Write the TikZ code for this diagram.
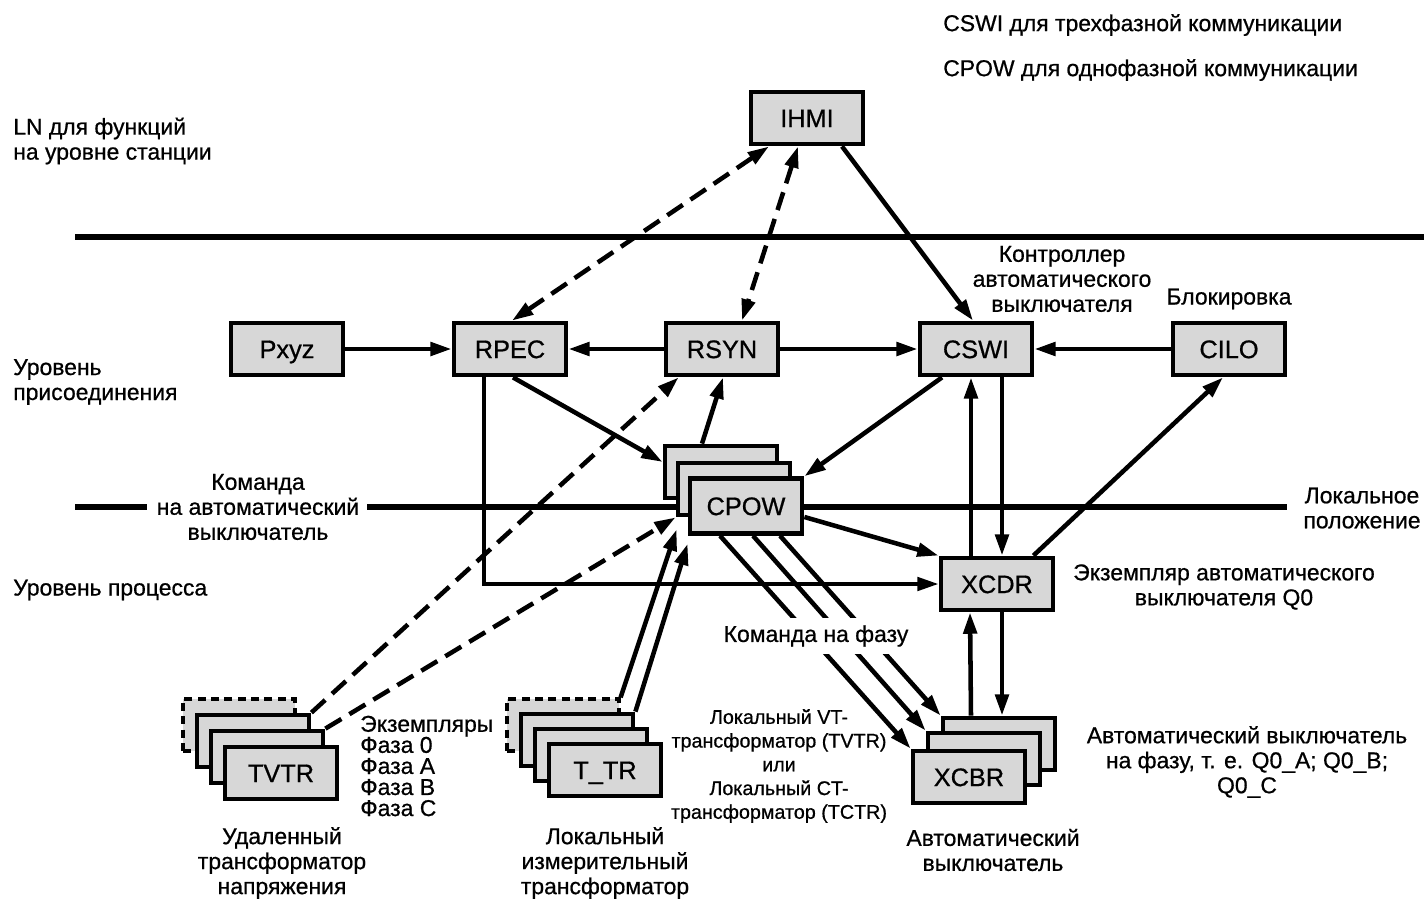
\documentclass[tikz,border=0pt]{standalone}
\usepackage{fontspec}
\setmainfont{Liberation Sans}[FakeBold=0.7]
\usetikzlibrary{arrows.meta,calc}
\definecolor{boxgray}{RGB}{215,215,215}
\tikzset{
 nbox/.style={draw=black, fill=boxgray, line width=3.6pt, minimum width=84pt, minimum height=39pt, inner sep=0pt, text height=13.6pt, text depth=0pt, font=\fontsize{19}{22}\selectfont},
 dbox/.style={nbox, dash pattern=on 6pt off 4pt, line width=2.4pt},
 lbl/.style={inner sep=0pt, font=\fontsize{17.2}{18.75}\selectfont, align=center},
 conn/.style={line width=3.4pt, -{Triangle[length=16pt,width=10pt]}},
 dconn/.style={conn, dash pattern=on 14pt off 7pt},
 ddconn/.style={dconn, {Triangle[length=16pt,width=10pt]}-{Triangle[length=16pt,width=10pt]}},
 sepline/.style={line width=5pt},
 thinconn/.style={line width=3pt, -{Triangle[length=16pt,width=10pt]}},
}
\begin{document}
\begin{tikzpicture}[x=0.75pt,y=-0.75pt]
\useasboundingbox (0,0) rectangle (1424,899);
% separator lines
\draw[sepline] (75,237) -- (1424,237);
\draw[sepline] (75,507) -- (147,507);
\draw[sepline] (367,507) -- (1287,507);
% nodes
\node[nbox] (ihmi) at (807,118) {IHMI};
\node[nbox] (pxyz) at (287,349) {Pxyz};
\node[nbox] (rpec) at (510,349) {RPEC};
\node[nbox] (rsyn) at (722,349) {RSYN};
\node[nbox] (cswi) at (976,349) {CSWI};
\node[nbox] (cilo) at (1229,349) {CILO};
\node[nbox] (xcdr) at (997,584) {XCDR};
\node[nbox] (cpow3) at (721,472) {};
\node[nbox] (cpow2) at (734,489) {};
\node[nbox, minimum height=41pt] (cpow) at (746,506) {CPOW};
\node[nbox] (xcbr3) at (999,744) {};
\node[nbox] (xcbr2) at (984,759) {};
\node[nbox] (xcbr) at (969,777) {XCBR};
\node[dbox] (tvtr4) at (239,725) {};
\node[nbox] (tvtr3) at (253,741) {};
\node[nbox] (tvtr2) at (267,757) {};
\node[nbox] (tvtr) at (281,773) {TVTR};
\node[dbox] (ttr4) at (563,725) {};
\node[nbox] (ttr3) at (577,740) {};
\node[nbox] (ttr2) at (591,755) {};
\node[nbox] (ttr) at (605,770) {T\_TR};
% connectors
\draw[conn] (pxyz) -- (rpec);
\draw[conn] (rsyn) -- (rpec);
\draw[conn] (rsyn) -- (cswi);
\draw[conn] (cilo) -- (cswi);
\draw[conn] ($(ihmi.south)+(35,0)$) -- ($(cswi.north)+(-3,0)$);
\draw[ddconn] ($(ihmi.south)+(-38,0)$) -- ($(rpec.north)+(2,0)$);
\draw[ddconn] ($(ihmi.south)+(-9,0)$) -- ($(rsyn.north)+(20,0)$);
\draw[conn] ($(rpec.south)+(3,0)$) -- ($(cpow3.west)+(0,-10)$);
\draw[conn] ($(cpow3.north)+(-19,0)$) -- ($(rsyn.south)+(1,0)$);
\draw[conn] ($(cswi.south)+(-34,0)$) -- (cpow.north east);
\draw[conn] ($(cpow.east)+(0,11)$) -- (xcdr.north west);
\draw[conn] ($(xcdr.north)+(-26,0)$) -- ($(cswi.south)+(-5,0)$);
\draw[conn] ($(cswi.south)+(26,0)$) -- ($(xcdr.north)+(5,0)$);
\draw[conn] ($(xcdr.north east)+(-22,0)$) -- ($(cilo.south)+(-6,0)$);
\draw[conn] ($(xcdr.south)+(5,0)$) -- ($(xcbr3.north)+(3,0)$);
\draw[conn] ($(xcbr3.north)+(-28,0)$) -- ($(xcdr.south)+(-27,0)$);
\draw[thinconn] ($(rpec.south)+(-26,0)$) |- (xcdr.west);
\draw[conn] ($(cpow.south)+(-26,0)$) -- (xcbr.north west);
\draw[conn] ($(cpow.south)+(7,0)$) -- (xcbr2.north west);
\draw[conn] ($(cpow.south)+(34,0)$) -- (xcbr3.north west);
\draw[conn] (ttr4.north east) -- ($(cpow2.south west)+(1,12)$);
\draw[conn] (ttr3.north east) -- ($(cpow.south west)+(0,8)$);
\draw[dconn] (tvtr3.north east) -- ($(rsyn.south west)+(15,0)$);
\draw[dconn] (tvtr2.north east) -- (cpow2.south west);
% labels
\node[lbl, fill=white, minimum height=27pt] (lphase) at (816,636) {Команда на фазу};
\node[lbl, anchor=west] (ltop1) at (943,25) {CSWI для трехфазной коммуникации};
\node[lbl, anchor=west] (ltop2) at (943,70) {CPOW для однофазной коммуникации};
\node[lbl, anchor=west, align=left] (lstation) at (13,141) {LN для функций\\на уровне станции};
\node[lbl, anchor=west, align=left] (lbay) at (13,382) {Уровень\\присоединения};
\node[lbl, anchor=west] (lproc) at (13,590) {Уровень процесса};
\node[lbl] (lcmd) at (258,507) {Команда\\на автоматический\\выключатель};
\node[lbl] (lctrl) at (1062,279) {Контроллер\\автоматического\\выключателя};
\node[lbl] (lblock) at (1229,299) {Блокировка};
\node[lbl] (lloc) at (1362,508) {Локальное\\положение};
\node[lbl] (linst) at (1224,587) {Экземпляр автоматического\\выключателя Q0};
\node[lbl, anchor=west, align=left, font=\fontsize{17.2}{15.8}\selectfont] (lphases) at (360,766) {Экземпляры\\Фаза 0\\Фаза A\\Фаза B\\Фаза C};
\node[lbl] (lremote) at (282,863) {Удаленный\\трансформатор\\напряжения};
\node[lbl, font=\fontsize{14.8}{17.8}\selectfont] (lvt) at (779,766) {Локальный VT-\\трансформатор (TVTR)\\или\\Локальный CT-\\трансформатор (TCTR)};
\node[lbl] (lmeas) at (605,863) {Локальный\\измерительный\\трансформатор};
\node[lbl] (lcb) at (993,850) {Автоматический\\выключатель};
\node[lbl] (lcbph) at (1247,762) {Автоматический выключатель\\на фазу, т. е. Q0\_A; Q0\_B;\\Q0\_C};
\end{tikzpicture}
\end{document}
